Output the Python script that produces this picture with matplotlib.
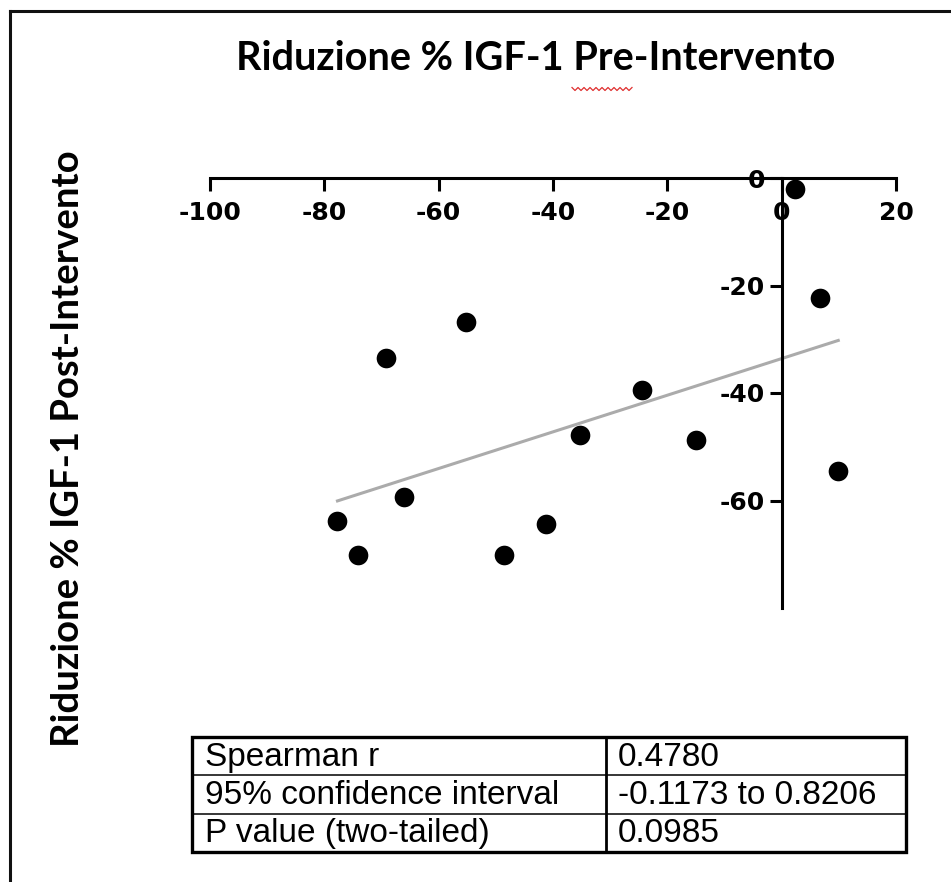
import numpy as np
import matplotlib
matplotlib.use("Agg")
import matplotlib.pyplot as plt
from matplotlib.lines import Line2D
from matplotlib.patches import Rectangle

# Percent IGF-1 reduction, pre vs post intervention (one point per subject)
pre_reduction = [-77.7, -74.1, -69.2, -66.1, -55.3, -48.5, -41.3, -35.3,
                 -24.5, -15.0, 2.3, 6.7, 9.9]
post_reduction = [-63.9, -70.1, -33.5, -59.3, -26.7, -70.1, -64.4, -47.9,
                  -39.5, -48.8, -2.1, -22.3, -54.5]
x_ticks = [-100, -80, -60, -40, -20, 0, 20]
y_ticks = [0, -20, -40, -60]
title_text = "Riduzione % IGF-1 Pre-Intervento"
ylabel_text = "Riduzione % IGF-1 Post-Intervento"
stat_names = ["Spearman r", "95% confidence interval", "P value (two-tailed)"]
stat_values = ["0.4780", "-0.1173 to 0.8206", "0.0985"]

plt.rcParams["axes.unicode_minus"] = False

W, H = 951, 882
fig = plt.figure(figsize=(W / 100, H / 100), dpi=100)
fig.patch.set_facecolor("white")


def fx(px):
    return px / W


def fy(py):
    return 1 - py / H


# page frame (top and left edges)
fig.add_artist(Line2D([fx(10), fx(951)], [fy(11), fy(11)], color="#111111",
                      lw=2.2, transform=fig.transFigure))
fig.add_artist(Line2D([fx(10), fx(10)], [fy(11), fy(882)], color="#111111",
                      lw=2.2, transform=fig.transFigure))

# scatter plot with crossing axes
ax = fig.add_axes([fx(210), fy(608), fx(896) - fx(210), fy(178) - fy(608)])
ax.patch.set_visible(False)
ax.set_xlim(-100, 20)
ax.set_ylim(-80, 0)
ax.spines["right"].set_visible(False)
ax.spines["top"].set_visible(False)
ax.spines["bottom"].set_position(("data", 0))
ax.spines["left"].set_position(("data", 0))
for s in ("bottom", "left"):
    ax.spines[s].set_linewidth(2.2)
ax.set_xticks(x_ticks)
ax.set_yticks(y_ticks)
ax.tick_params(axis="both", direction="out", length=9, width=2.2,
               labelsize=18)
ax.tick_params(axis="x", pad=7.5)
ax.tick_params(axis="y", pad=3)
for lab in ax.get_xticklabels() + ax.get_yticklabels():
    lab.set_fontweight("bold")
    lab.set_family("DejaVu Sans")

xs = np.array(pre_reduction)
ys = np.array(post_reduction)
fit = np.polyfit(xs, ys, 1)
x_line = np.array([xs.min(), xs.max()])
ax.plot(x_line, np.polyval(fit, x_line), color="#ababab", lw=2.2, zorder=2)
ax.scatter(xs, ys, s=200, color="black", zorder=3, clip_on=False,
           linewidths=0)

# title and vertical axis label
fig.text(fx(536), fy(58), title_text, ha="center", va="center",
         fontsize=28.5, fontweight="bold", family="Lato")
fig.text(fx(68), fy(449), ylabel_text, ha="center", va="center",
         rotation=90, fontsize=27.5, fontweight="bold", family="Lato")

# spell-check squiggle under "Pre"
sq_x = np.linspace(572, 632, 21)
sq_y = 89 + np.where(np.arange(21) % 2 == 0, -1.5, 1.5)
fig.add_artist(Line2D(fx(sq_x), fy(sq_y), color="#e03030", lw=0.9,
                      transform=fig.transFigure))

# statistics table
tax = fig.add_axes([fx(192), fy(852), fx(906) - fx(192), fy(737) - fy(852)])
tax.set_xlim(192, 906)
tax.set_ylim(852, 737)
tax.axis("off")
tax.add_patch(Rectangle((192, 737), 714, 115, fill=False, lw=2.4,
                        edgecolor="black", clip_on=False))
row_edges = np.linspace(737, 852, len(stat_names) + 1)
for yy in row_edges[1:-1]:
    tax.plot([192, 906], [yy, yy], color="black", lw=1.1)
tax.plot([606, 606], [737, 852], color="black", lw=2.0)
for i, (name, val) in enumerate(zip(stat_names, stat_values)):
    yc = (row_edges[i] + row_edges[i + 1]) / 2 + 1
    tax.text(205, yc, name, ha="left", va="center", fontsize=24,
             family="Liberation Sans")
    tax.text(618, yc, val, ha="left", va="center", fontsize=24,
             family="Liberation Sans")

fig.savefig("out.png", dpi=100, facecolor="white")
